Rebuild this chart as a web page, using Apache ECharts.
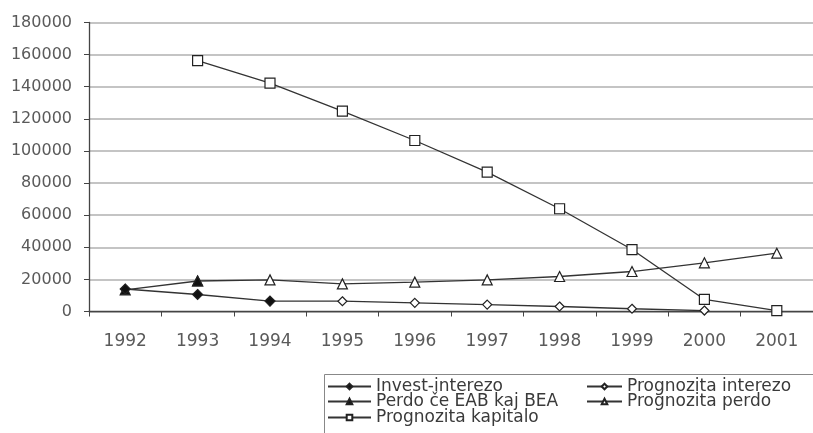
<!DOCTYPE html>
<html>
<head>
<meta charset="utf-8">
<script src="https://cdn.jsdelivr.net/npm/echarts@6/dist/echarts.min.js"></script>
<style>
  html, body { margin: 0; padding: 0; background: #fff; }
  #chart { width: 813px; height: 433px; }
</style>
</head>
<body>
<div id="chart"></div>
<script>
var years = ['1992', '1993', '1994', '1995', '1996', '1997', '1998', '1999', '2000', '2001'];
var yTicks = [0, 180000, 20000]; // min, max, step
var investInterezo = [14000, 10600, 6500, null, null, null, null, null, null, null];
var perdoEab = [13500, 19000, null, null, null, null, null, null, null, null];
var progInterezo = [null, null, 6500, 6400, 5400, 4300, 3100, 1700, 600, null];
var progPerdo = [null, 19000, 19700, 17200, 18300, 19700, 21800, 24900, 30300, 36300];
var progKapitalo = [null, 156300, 142200, 124800, 106500, 86800, 64000, 38600, 7500, 600];

var myChart = echarts.init(document.getElementById('chart'));
var font = 'DejaVu Sans, Verdana, sans-serif';
var lineCol = '#333';

function lineSeries(name, data, symbol, filled, size) {
  return {
    name: name,
    type: 'line',
    data: data,
    symbol: symbol,
    symbolSize: size,
    showAllSymbol: true,
    connectNulls: false,
    animation: false,
    lineStyle: { color: lineCol, width: 1.3 },
    itemStyle: {
      color: filled ? '#111' : '#fff',
      borderColor: '#222',
      borderWidth: 1.2
    }
  };
}

// one legend per entry, so the two columns sit like in the original
function legendItem(name, left, top, w) {
  return {
    left: left,
    top: top,
    itemWidth: w,
    itemHeight: 7,
    padding: 0,
    textStyle: { color: '#3a3a3a', fontSize: 17, fontFamily: font },
    data: [name]
  };
}

var option = {
  backgroundColor: '#fff',
  animation: false,
  grid: { left: 89, right: -7, top: 22.5, bottom: 121.5, containLabel: false },
  xAxis: {
    type: 'category',
    data: years,
    boundaryGap: true,
    axisLine: { lineStyle: { color: '#444', width: 1.3 } },
    axisTick: { show: true, length: 5, lineStyle: { color: '#444' } },
    axisLabel: { color: '#5a5a5a', fontSize: 17, fontFamily: font, margin: 22 },
    splitLine: { show: false }
  },
  yAxis: {
    type: 'value',
    min: yTicks[0],
    max: yTicks[1],
    interval: yTicks[2],
    axisLine: { show: true, lineStyle: { color: '#444', width: 1.3 } },
    axisTick: { show: true, length: 5, lineStyle: { color: '#444' } },
    axisLabel: {
      color: '#5a5a5a', fontSize: 16, fontFamily: font, margin: 17,
      formatter: function (v) { return String(v); }
    },
    splitLine: { show: true, lineStyle: { color: '#c4c4c4', width: 2 } }
  },
  legend: [
    legendItem('Invest-interezo', 327, 378, 43),
    legendItem('Perdo če EAB kaj BEA', 327, 393, 43),
    legendItem('Prognozita kapitalo', 327, 409, 43),
    legendItem('Prognozita interezo', 586, 378, 35),
    legendItem('Prognozita perdo', 586, 393, 35)
  ],
  graphic: [
    {
      type: 'rect',
      left: 322,
      top: 372,
      shape: { width: 500, height: 70 },
      style: { fill: 'none', stroke: '#888', lineWidth: 1 },
      z: 1
    }
  ],
  series: [
    lineSeries('Prognozita kapitalo', progKapitalo, 'rect', false, 10),
    lineSeries('Prognozita perdo', progPerdo, 'triangle', false, 10),
    lineSeries('Prognozita interezo', progInterezo, 'diamond', false, 9),
    lineSeries('Perdo če EAB kaj BEA', perdoEab, 'triangle', true, 10),
    lineSeries('Invest-interezo', investInterezo, 'diamond', true, 10)
  ]
};

myChart.setOption(option);
</script>
</body>
</html>
